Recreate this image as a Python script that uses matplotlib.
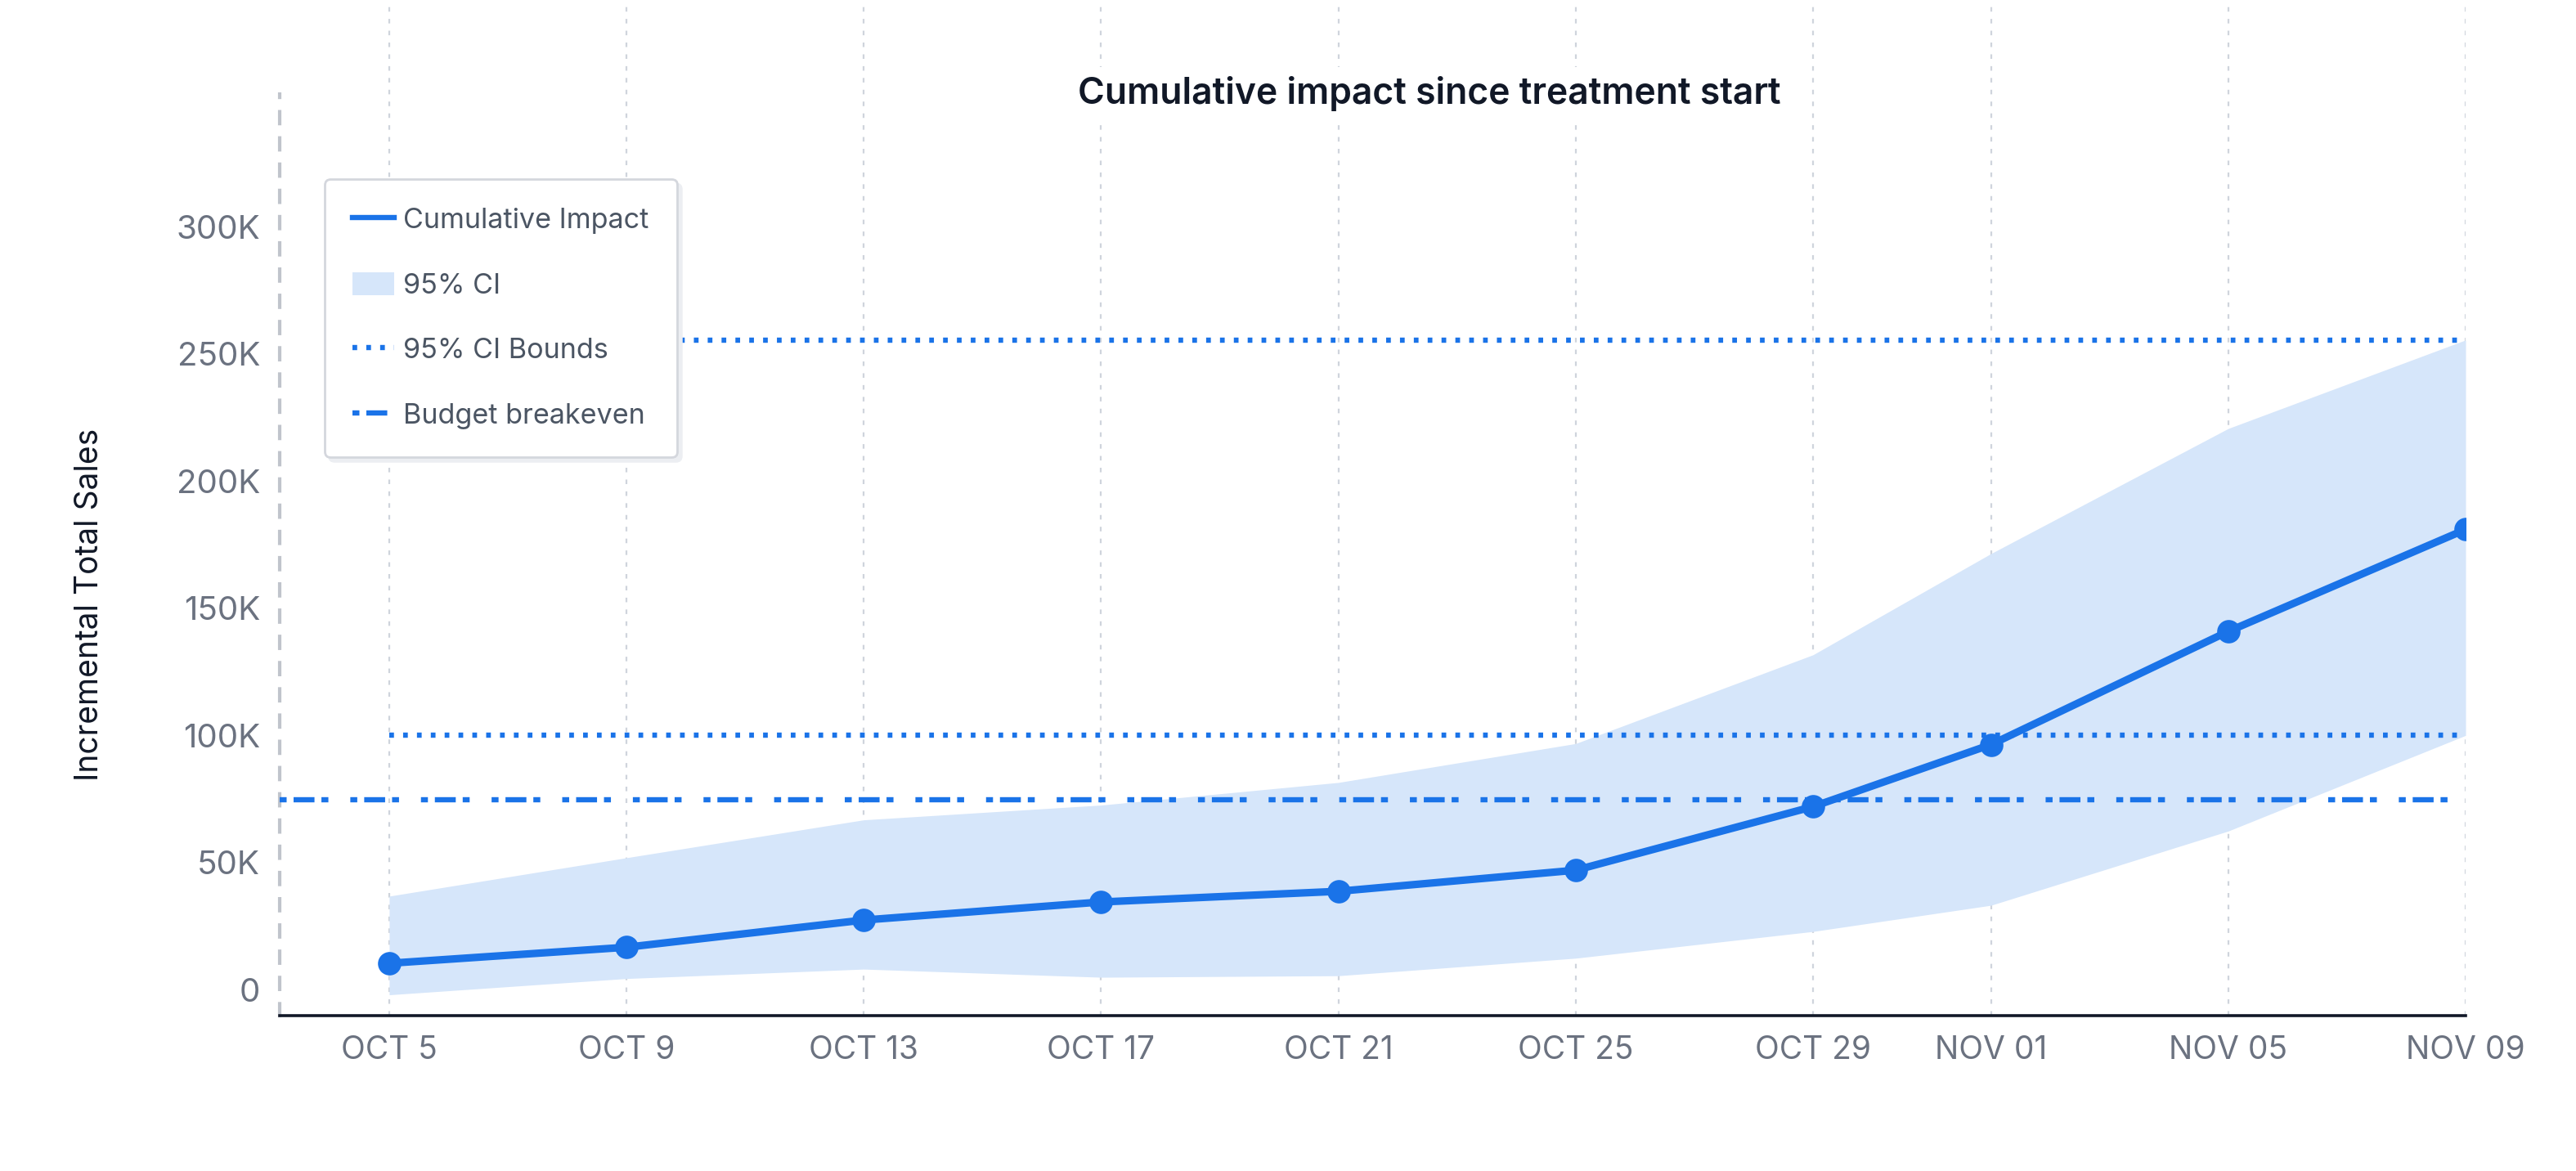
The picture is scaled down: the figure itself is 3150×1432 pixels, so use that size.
import matplotlib
matplotlib.use("Agg")
import matplotlib.pyplot as plt
import matplotlib.dates as mdates
import pandas as pd
from matplotlib.lines import Line2D
from matplotlib.patches import Patch

# ---------------- data ----------------
dates = ["2024-10-05", "2024-10-09", "2024-10-13", "2024-10-17", "2024-10-21",
         "2024-10-25", "2024-10-29", "2024-11-01", "2024-11-05", "2024-11-09"]
tick_labels = ["OCT 5", "OCT 9", "OCT 13", "OCT 17", "OCT 21",
               "OCT 25", "OCT 29", "NOV 01", "NOV 05", "NOV 09"]
cumulative_impact = [10300, 16600, 27300, 34400, 38600, 46900, 71900, 96300, 140800, 180900]
ci_upper = [36700, 51800, 66700, 72500, 81400, 96700, 131600, 171400, 220600, 255400]
ci_lower = [-2100, 4300, 8000, 4800, 5400, 12300, 22800, 33100, 62300, 99900]
budget_breakeven = 74700
ytick_values = [0, 50000, 100000, 150000, 200000, 250000, 300000]
ytick_labels = ["0", "50K", "100K", "150K", "200K", "250K", "300K"]

# ---------------- style ----------------
plt.rcParams["font.family"] = ["Inter", "DejaVu Sans"]
BLUE = "#1a73e8"
FILL = "#d6e6fa"
TICK = "#6b7280"
DARK = "#111827"
DOT = (0, (0.9, 1.75))
DASHDOT = (0, (1.33, 1.33, 4, 1.33, 1.33, 4.2))

x = pd.to_datetime(dates)
xn = mdates.date2num(x)

fig = plt.figure(figsize=(15.75, 7.16), dpi=200)
ax = fig.add_axes([0.10848, 0.13268, 0.84866, 0.86732])

ax.fill_between(x, ci_lower, ci_upper, color=FILL, linewidth=0, zorder=1, label="95% CI")
ax.plot([x[0], x[-1]], [ci_upper[-1], ci_upper[-1]], color=BLUE, lw=2.3,
        linestyle=DOT, zorder=3, label="95% CI Bounds")
ax.plot([x[0], x[-1]], [ci_lower[-1], ci_lower[-1]], color=BLUE, lw=2.3,
        linestyle=DOT, zorder=3)
ax.axhline(budget_breakeven, color=BLUE, lw=2.3, linestyle=DASHDOT, zorder=3,
           label="Budget breakeven")
ax.plot(x, cumulative_impact, color=BLUE, lw=3.3, marker="o", ms=9.3,
        zorder=5, label="Cumulative Impact", solid_capstyle="round")

# axes limits
ax.set_xlim(xn[0] - 1.85, xn[-1])
ax.set_ylim(-10290, 389100)

ax.set_xticks(xn)
ax.set_xticklabels(tick_labels)
ax.set_yticks(ytick_values)
ax.set_yticklabels(ytick_labels)
ax.tick_params(axis="both", length=0, labelcolor=TICK)
ax.tick_params(axis="x", pad=8.5, labelsize=14)
ax.tick_params(axis="y", pad=8.5, labelsize=14.5)

# grid (vertical only)
ax.grid(axis="x", color="#cfd4dc", lw=0.8, linestyle=(0, (2.5, 4)))
ax.grid(axis="y", visible=False)
ax.set_axisbelow(True)

# spines
for s in ["top", "right"]:
    ax.spines[s].set_visible(False)
ax.spines["left"].set_color("#c0c4cc")
ax.spines["left"].set_linewidth(1.5)
ax.spines["left"].set_linestyle((0, (3.5, 4.2)))
ax.spines["left"].set_bounds(-10290, 352000)
ax.spines["bottom"].set_color(DARK)
ax.spines["bottom"].set_linewidth(1.3)

# title & labels
fig.text(0.555, 0.920, "Cumulative impact since treatment start", ha="center", va="center",
         fontsize=16, fontweight="semibold", color=DARK,
         bbox=dict(facecolor="white", edgecolor="none", pad=4), zorder=10)
fig.text(0.0349, 0.484, "Incremental Total Sales", rotation=90, ha="center", va="center",
         fontsize=14, color=DARK)

handles = [
    Line2D([0], [0], color=BLUE, lw=2.3),
    Patch(facecolor=FILL, edgecolor="none"),
    Line2D([0], [0], color=BLUE, lw=2.3, linestyle=DOT),
    Line2D([0], [0], color=BLUE, lw=2.3, linestyle=DASHDOT),
]
labels = ["Cumulative Impact", "95% CI", "95% CI Bounds", "Budget breakeven"]
leg = fig.legend(handles, labels, loc="upper left", bbox_to_anchor=(0.126, 0.8469),
                 borderaxespad=0, fontsize=12.3, frameon=True, fancybox=True,
                 handlelength=1.5, handleheight=0.9, handletextpad=0.32,
                 labelspacing=1.36, borderpad=1.0, labelcolor="#4b5563",
                 shadow={"color": "#eceef2", "alpha": 1.0})
leg.get_frame().set_edgecolor("#d4d7dd")
leg.get_frame().set_linewidth(1.0)
leg.get_frame().set_facecolor("white")

fig.savefig("out.png", dpi=200, facecolor="white")
